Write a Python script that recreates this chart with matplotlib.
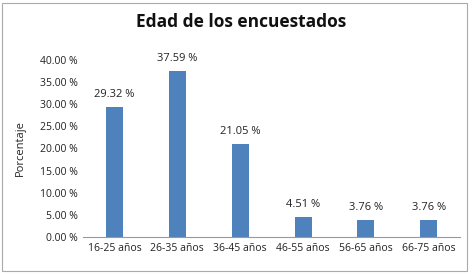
import matplotlib
matplotlib.use("Agg")
from matplotlib import pyplot as plt
from matplotlib.patches import Rectangle

categorias = ["16-25 años", "26-35 años", "36-45 años", "46-55 años", "56-65 años", "66-75 años"]
porcentajes = [29.32, 37.59, 21.05, 4.51, 3.76, 3.76]
ticks = [0, 5, 10, 15, 20, 25, 30, 35, 40]

plt.rcParams['font.family'] = ['Open Sans', 'DejaVu Sans']

fig = plt.figure(figsize=(4.72, 2.75), dpi=100)
ax = fig.add_axes([0.176, 0.138, 0.799, 0.644])

x = range(len(categorias))
ax.bar(x, porcentajes, width=0.27, color="#4F81BD")
for i, v in zip(x, porcentajes):
    ax.text(i, v + 1.6, f"{v:.2f} %", ha="center", va="bottom", fontsize=8, color="#222222")

ax.set_xlim(-0.5, len(categorias) - 0.5)
ax.set_ylim(0, 40)
ax.set_yticks(ticks)
ax.set_yticklabels([f"{t:.2f} %" for t in ticks], fontsize=7.5, color="#222222")
ax.set_xticks(list(x))
ax.set_xticklabels(categorias, fontsize=7.5, color="#222222")
ax.tick_params(length=0, pad=4)
for s in ["top", "right", "left"]:
    ax.spines[s].set_visible(False)
ax.spines["bottom"].set_color("#999999")
ax.spines["bottom"].set_linewidth(0.8)

ax.set_ylabel("Porcentaje", fontsize=8, color="#222222", labelpad=10)
fig.text(0.51, 0.92, "Edad de los encuestados", ha="center", va="center",
         fontsize=12.5, fontweight="bold", color="#111111")

fig.patches.append(Rectangle((0.005, 0.015), 0.985, 0.975, transform=fig.transFigure,
                             fill=False, edgecolor="#AAAAAA", linewidth=0.8))

fig.savefig("out.png", dpi=100)
